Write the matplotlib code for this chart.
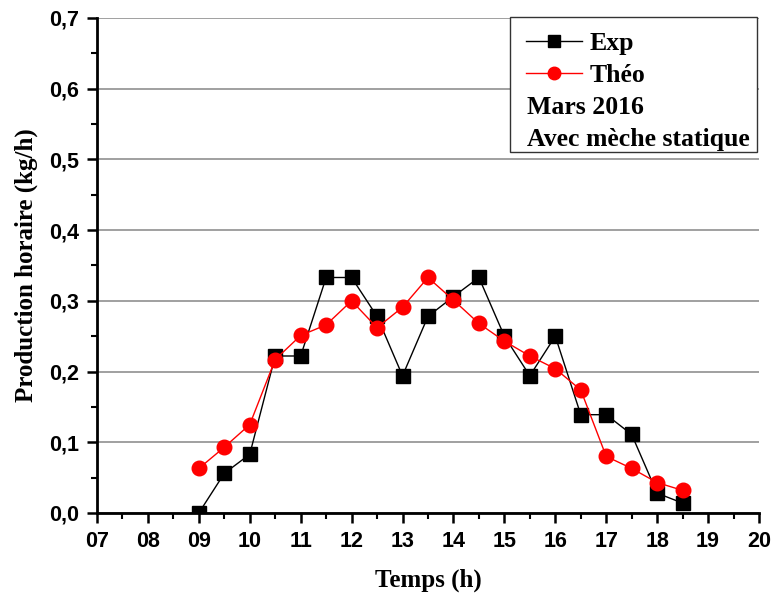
import matplotlib
matplotlib.use("Agg")
import matplotlib.pyplot as plt
from matplotlib.ticker import MultipleLocator, FuncFormatter
from matplotlib.lines import Line2D
from matplotlib.patches import Rectangle

# Hourly production data (kg/h)
hours = [9, 9.5, 10, 10.5, 11, 11.5, 12, 12.5, 13, 13.5, 14, 14.5,
         15, 15.5, 16, 16.5, 17, 17.5, 18, 18.5]
exp_vals = [0.0, 0.056, 0.083, 0.222, 0.222, 0.333, 0.333, 0.278, 0.194, 0.278,
            0.306, 0.333, 0.25, 0.194, 0.25, 0.139, 0.139, 0.111, 0.028, 0.014]
theo_vals = [0.063, 0.093, 0.125, 0.217, 0.251, 0.266, 0.300, 0.262, 0.291, 0.333,
             0.301, 0.268, 0.243, 0.222, 0.204, 0.174, 0.080, 0.063, 0.043, 0.032]

series_labels = ["Exp", "Théo"]
extra_lines = ["Mars 2016", "Avec mèche statique"]
x_label = "Temps (h)"
y_label = "Production horaire (kg/h)"

serif_bold = dict(family="Liberation Serif", weight="bold")

fig = plt.figure(figsize=(7.74, 5.99), dpi=100)
ax = fig.add_axes([0.1253, 0.1436, 0.8553, 0.8264])

ax.plot(hours, exp_vals, color="black", lw=1, marker="s", ms=9.5,
        mfc="black", mec="black", zorder=3)
ax.plot(hours, theo_vals, color="red", lw=1, marker="o", ms=10.5,
        mfc="red", mec="red", zorder=4)

ax.set_xlim(7, 20)
ax.set_ylim(0, 0.7)
ax.xaxis.set_major_locator(MultipleLocator(1))
ax.xaxis.set_minor_locator(MultipleLocator(0.5))
ax.yaxis.set_major_locator(MultipleLocator(0.1))
ax.yaxis.set_minor_locator(MultipleLocator(0.05))
ax.xaxis.set_major_formatter(FuncFormatter(lambda v, p: f"{int(round(v)):02d}"))
ax.yaxis.set_major_formatter(FuncFormatter(lambda v, p: f"{v:.1f}".replace(".", ",")))

ax.grid(axis="y", which="major", color="#a0a0a0", lw=1.4, zorder=0)
ax.set_axisbelow(True)

for side in ("top", "right"):
    ax.spines[side].set_visible(False)
for side in ("left", "bottom"):
    ax.spines[side].set_linewidth(2)
    ax.spines[side].set_zorder(5)

ax.tick_params(which="major", direction="out", length=7, width=1.8, pad=6)
ax.tick_params(which="minor", direction="out", length=4, width=1.5)
for lab in ax.get_xticklabels() + ax.get_yticklabels():
    lab.set_fontfamily("Liberation Sans")
    lab.set_fontweight("bold")
    lab.set_fontsize(15.5)

ax.set_xlabel(x_label, fontsize=18, labelpad=12, **serif_bold)
ax.set_ylabel(y_label, fontsize=18, labelpad=8, **serif_bold)

# Legend box with two series entries and two note lines
ax.add_patch(Rectangle((0.624, 0.729), 0.373, 0.273, transform=ax.transAxes,
                       fill=True, fc="white", ec="#333333", lw=1, zorder=6,
                       clip_on=False))
handles = [Line2D([], [], color="black", lw=1, marker="s", ms=8, mfc="black"),
           Line2D([], [], color="red", lw=1, marker="o", ms=9, mfc="red", mec="red")]
leg = ax.legend(handles, series_labels, loc="upper left",
                bbox_to_anchor=(0.627, 1.0), frameon=False,
                prop=dict(family="Liberation Serif", weight="bold", size=18.5),
                handlelength=2.18, handletextpad=0.27, labelspacing=0.36,
                borderaxespad=0.25, borderpad=0.3)
leg.set_zorder(7)
ax.text(0.650, 0.820, extra_lines[0], transform=ax.transAxes, fontsize=18.5,
        va="center", ha="left", zorder=8, **serif_bold)
ax.text(0.650, 0.754, extra_lines[1], transform=ax.transAxes, fontsize=18.5,
        va="center", ha="left", zorder=8, **serif_bold)

fig.savefig("out.png", dpi=100)
